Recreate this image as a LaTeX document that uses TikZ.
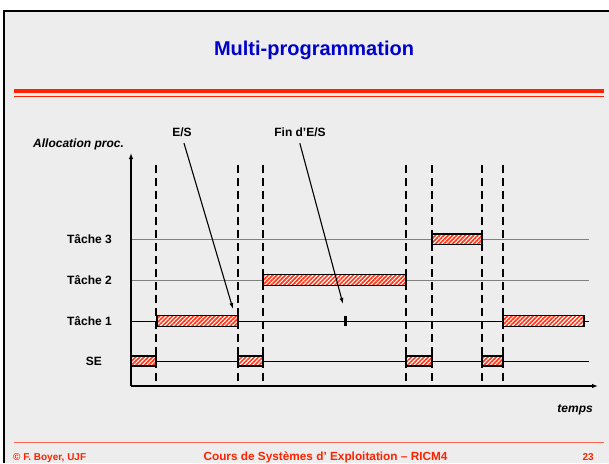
\documentclass[tikz,border=0pt]{standalone}
\usepackage{fontspec}
\setmainfont{Liberation Sans}
\usepackage{tikz}
\usetikzlibrary{positioning,arrows.meta,patterns.meta}
\definecolor{slidebg}{HTML}{EDEDED}
\definecolor{slideblue}{HTML}{0000CC}
\definecolor{slidered}{HTML}{FF2200}
\definecolor{footred}{HTML}{FF6650}
\definecolor{hatchred}{HTML}{FF3A1A}

\begin{document}
\begin{tikzpicture}[x=1pt,y=-1pt,
  lbl/.style={font=\bfseries\fontsize{12}{14}\selectfont,anchor=base east,inner sep=0pt},
  evlbl/.style={font=\bfseries\fontsize{12}{14}\selectfont,anchor=base,inner sep=0pt},
  axlbl/.style={font=\bfseries\itshape\fontsize{12}{14}\selectfont,inner sep=0pt},
  foot/.style={font=\bfseries\fontsize{10}{12}\selectfont,text=slidered,inner sep=0pt},
  rowline/.style={line width=0.8pt},
  sep/.style={dash pattern=on 8pt off 5pt,line width=1.6pt},
  bar/.style={draw=black,line width=1.4pt,preaction={fill=white},
    pattern={Lines[angle=45,distance=3pt,line width=1.7pt]},pattern color=hatchred},
  arr/.style={-{Latex[length=6pt,width=4pt]},line width=1.1pt},
  axis/.style={-{Latex[length=6pt,width=4.5pt]},line width=1.7pt}
]
\useasboundingbox (0,0) rectangle (609,463);
\fill[white] (0,0) rectangle (609,463);
\fill[slidebg] (4,10.5) rectangle (609,463);
\draw[line width=2pt] (4,463) -- (4,10.5) -- (609,10.5);

% title and rules
\node[font=\bfseries\fontsize{20}{24}\selectfont,text=slideblue,anchor=base,inner sep=0pt] (title) at (314,55.5) {Multi-programmation};
\fill[slidered] (14,89.3) rectangle (604,93);
\draw[slidered,line width=1pt] (14,96.3) -- (604,96.3);

% rows
\draw[rowline,gray] (131,239) -- (589,239);
\draw[rowline,gray] (131,280) -- (589,280);
\draw[rowline] (131,321) -- (589,321);
\draw[rowline] (131,361) -- (589,361);

\node[lbl] (t3) at (112,243.3) {Tâche 3};
\node[lbl] (t2) at (112,284.3) {Tâche 2};
\node[lbl] (t1) at (112,325.3) {Tâche 1};
\node[lbl] (se) at (102,365.3) {SE};

% switch instants
\foreach \x in {156,238,263,406,432,482,503}
  \draw[sep] (\x,165) -- (\x,386);

% processor allocation
\foreach \a/\b in {131/156,238/263,406/432,482/503}
  \draw[bar] (\a,356) rectangle (\b,366);
\draw[bar] (157,315.5) rectangle (238,326.5);
\draw[bar] (263,274.5) rectangle (406,285.5);
\draw[bar] (432,234) rectangle (482,244.5);
\draw[bar] (503,315.5) rectangle (584,326.5);
\fill (344,316) rectangle (346.5,325.5);

% axes
\coordinate (orig) at (131,386);
\coordinate (ytop) at (131,153);
\coordinate (xend) at (598,386);
\draw[axis] (orig) -- (ytop);
\draw[axis] (orig) -- (xend);
\node[axlbl,anchor=base west] (alloc) at (33,147) {Allocation proc.};
\node[axlbl,anchor=base east] (temps) at (593,412) {temps};

% events
\node[evlbl] (es) at (182,136) {E/S};
\node[evlbl] (fin) at (300,136) {Fin d’E/S};
\coordinate (esTip) at (233,309);
\coordinate (finTip) at (343,304);
\draw[arr,shorten <=7pt] (es.south) -- (esTip);
\draw[arr,shorten <=7pt] ([xshift=-2pt]fin.south) -- (finTip);

% footer
\draw[footred,line width=1pt] (14,442.7) -- (604,442.7);
\node[foot,anchor=base west] (auth) at (13,460.3) {© F. Boyer, UJF};
\node[foot,anchor=base,font=\bfseries\fontsize{11.8}{14}\selectfont] (course) at (325.5,460.3) {Cours de Systèmes d’ Exploitation – RICM4};
\node[foot,anchor=base east] (page) at (594,460.3) {23};
\end{tikzpicture}
\end{document}
